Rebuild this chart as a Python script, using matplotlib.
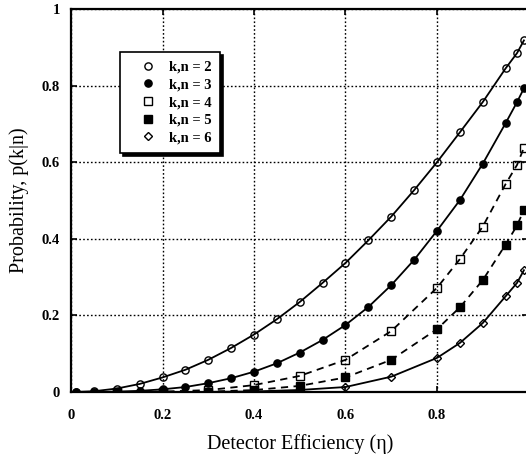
import matplotlib
matplotlib.use("Agg")
import matplotlib.pyplot as plt

# ---- data ----
eta_fine = [0.01, 0.05, 0.1, 0.15, 0.2, 0.25, 0.3, 0.35, 0.4, 0.45, 0.5, 0.55,
            0.6, 0.65, 0.7, 0.75, 0.8, 0.85, 0.9, 0.95, 0.975, 0.99]
p_k2 = [0.0001, 0.002, 0.009, 0.021, 0.038, 0.058, 0.084, 0.115, 0.15, 0.19, 0.235, 0.285,
        0.337, 0.396, 0.458, 0.527, 0.600, 0.678, 0.757, 0.845, 0.885, 0.918]
p_k3 = [0.0, 0.0001, 0.001, 0.003, 0.007, 0.013, 0.023, 0.036, 0.053, 0.075, 0.103, 0.136,
        0.175, 0.222, 0.279, 0.345, 0.421, 0.501, 0.596, 0.702, 0.757, 0.793]

eta_coarse = [0.1, 0.2, 0.3, 0.4, 0.5, 0.6, 0.7, 0.8, 0.85, 0.9, 0.95, 0.975, 0.99]
p_k4 = [0.0001, 0.001, 0.005, 0.018, 0.042, 0.084, 0.159, 0.272, 0.347, 0.432, 0.543, 0.593, 0.638]
p_k5 = [0.0, 0.0003, 0.001, 0.005, 0.016, 0.038, 0.084, 0.164, 0.221, 0.292, 0.385, 0.435, 0.475]
p_k6 = [0.0, 0.0, 0.0003, 0.0014, 0.0053, 0.013, 0.04, 0.089, 0.128, 0.18, 0.25, 0.285, 0.318]

labels = ["k,n = 2", "k,n = 3", "k,n = 4", "k,n = 5", "k,n = 6"]
xticks = [0, 0.2, 0.4, 0.6, 0.8, 1.0]
xticklabels = ["0", "0.2", "0.4", "0.6", "0.8", ""]
yticks = [0, 0.2, 0.4, 0.6, 0.8, 1.0]
yticklabels = ["0", "0.2", "0.4", "0.6", "0.8", "1"]

plt.rcParams['font.family'] = ['Liberation Serif', 'DejaVu Serif']

W, H = 526, 459
fig = plt.figure(figsize=(W / 100, H / 100), dpi=100)
ax = fig.add_axes([71 / W, 1 - 392 / H, (528.5 - 71) / W, (392 - 9) / H])

ms = 5.2
lw = 1.3
ax.plot(eta_fine, p_k2, '-', color='black', lw=lw, marker='o', ms=ms, mfc='none', mec='black', mew=1.0, label=labels[0])
ax.plot(eta_fine, p_k3, '-', color='black', lw=lw, marker='o', ms=ms, mfc='black', mec='black', label=labels[1])
ax.plot(eta_coarse, p_k4, '--', color='black', lw=lw, dashes=(4, 3), marker='s', ms=ms, mfc='none', mec='black', mew=1.0, label=labels[2])
ax.plot(eta_coarse, p_k5, '--', color='black', lw=lw, dashes=(4, 3), marker='s', ms=ms, mfc='black', mec='black', label=labels[3])
ax.plot(eta_coarse, p_k6, '-', color='black', lw=lw, marker='D', ms=4.2, mfc='none', mec='black', mew=1.0, label=labels[4])

ax.set_xlim(0, 1)
ax.set_ylim(0, 1)
ax.set_xticks(xticks)
ax.set_xticklabels(xticklabels)
ax.set_yticks(yticks)
ax.set_yticklabels(yticklabels)
for lab in ax.get_xticklabels() + ax.get_yticklabels():
    lab.set_fontweight('bold')
    lab.set_fontsize(10.5)
ax.tick_params(axis='both', direction='in', length=4, width=1.2, top=True, right=True)
ax.tick_params(axis='x', pad=12)
ax.tick_params(axis='y', pad=8)
for s in ax.spines.values():
    s.set_linewidth(1.6)

ax.grid(True, color='black', linestyle=(0, (1.2, 1.6)), linewidth=1.0)

ax.set_xlabel("Detector Efficiency (η)", fontsize=14.5, labelpad=9)
ax.set_ylabel("Probability, p(k|n)", fontsize=14.5, labelpad=9)

leg = ax.legend(loc='upper left', bbox_to_anchor=(120 / W, 1 - 52 / H),
                bbox_transform=fig.transFigure, borderaxespad=0,
                frameon=True, fancybox=False, shadow={'color': 'black', 'alpha': 1},
                handlelength=2.6, handletextpad=0.15, labelspacing=0.3,
                borderpad=0.6, prop={'weight': 'bold', 'size': 10.5})
leg.get_frame().set_edgecolor('black')
leg.get_frame().set_linewidth(1.2)
for h in leg.legend_handles:
    h.set_linestyle('none')
leg.set_zorder(5)

fig.savefig("out.png", dpi=100)
